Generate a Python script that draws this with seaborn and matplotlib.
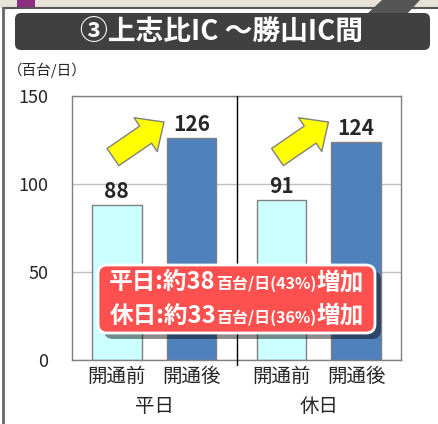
import pandas as pd
import matplotlib.pyplot as plt
import seaborn as sns
from matplotlib.patches import FancyBboxPatch, FancyArrowPatch, Polygon, Rectangle
from matplotlib.offsetbox import TextArea, HPacker, VPacker, AnchoredOffsetbox

# data
groups = ["平日", "平日", "休日", "休日"]
periods = ["開通前", "開通後", "開通前", "開通後"]
values = [88, 126, 91, 124]
yticks = [0, 50, 100, 150]
title = "③上志比IC ～勝山IC間"
unit = "（百台/日）"
box_lines = [
    [("平日:約38", 17), ("百台/日(43%)", 11.5), ("増加", 17)],
    [("休日:約33", 17), ("百台/日(36%)", 11.5), ("増加", 17)],
]

df = pd.DataFrame({"group": groups, "period": periods, "value": values})

sns.set_style("white")
plt.rcParams["font.family"] = ["Noto Sans CJK JP", "DejaVu Sans"]

fig = plt.figure(figsize=(4.38, 4.24), dpi=100)

# background decoration in pixel coords
bg = fig.add_axes([0, 0, 1, 1], zorder=0)
bg.set_xlim(0, 438)
bg.set_ylim(424, 0)
bg.axis("off")
bg.add_patch(Rectangle((0, 0), 438, 8, fc="#E6E2D6", ec="none"))
bg.add_patch(Rectangle((17, 0), 18, 8, fc="#8E2E80", ec="none"))
bg.add_patch(Polygon([(367, 14), (407, 14), (420, 0), (382, 0)], fc="#555555", ec="none"))
bg.plot([3, 438], [8, 8], color="#555555", lw=1.5)
bg.plot([3, 3], [8, 424], color="#666666", lw=2)
bg.add_patch(FancyBboxPatch((15, 13), 415, 37, boxstyle="round,pad=0,rounding_size=6",
                            fc="#404040", ec="none"))
bg.text(222, 32, title, color="white", fontsize=20, fontweight="bold",
        ha="center", va="center")
bg.text(8, 70, unit, fontsize=10.5, ha="left", va="center")

ax = fig.add_axes([72 / 438, 64 / 424, 329 / 438, 264 / 424], zorder=1)
sns.barplot(data=df, x="group", y="value", hue="period",
            palette={"開通前": "#CCFFFF", "開通後": "#4F81BD"}, saturation=1,
            edgecolor="#808080", linewidth=1, width=0.91, gap=0.34,
            legend=False, ax=ax, zorder=2)

ax.set_ylim(0, 150)
ax.set_xlim(-0.5, 1.5)
ax.set_yticks(yticks)
ax.set_yticklabels([str(t) for t in yticks], fontsize=13)
ax.tick_params(axis="y", length=0, pad=17)
ax.yaxis.grid(True, color="#C0C0C0", lw=1)
ax.set_axisbelow(True)
for s in ax.spines.values():
    s.set_color("#808080")
    s.set_linewidth(1)
ax.set_xlabel("")
ax.set_ylabel("")

for c in ax.containers:
    ax.bar_label(c, fontsize=15, fontweight="bold", padding=2)

# x tick labels: periods under bars, groups below
bars = sorted(ax.patches, key=lambda p: p.get_x())
centers = [p.get_x() + p.get_width() / 2 for p in bars]
ax.set_xticks([0, 1])
ax.set_xticklabels(["平日", "休日"], fontsize=14)
ax.set_xticks(centers, minor=True)
ax.set_xticklabels(periods, minor=True, fontsize=14)
ax.tick_params(axis="x", which="major", length=0, pad=26)
ax.tick_params(axis="x", which="minor", length=0, pad=4)

# separator between groups
ax.axvline(0.5, ymin=-0.02, ymax=1, color="black", lw=1, clip_on=False, zorder=3)

# arrows
for i in range(2):
    arr = FancyArrowPatch((i - 0.251, 115.3), (i + 0.059, 135.2),
                          arrowstyle="simple,head_length=16,head_width=29.5,tail_width=15",
                          fc="#FFFF00", ec="#808080", lw=1, shrinkA=0, shrinkB=0, zorder=4)
    ax.add_patch(arr)

# summary box
bg2 = fig.add_axes([0, 0, 1, 1], zorder=5)
bg2.set_xlim(0, 438)
bg2.set_ylim(424, 0)
bg2.axis("off")
bg2.add_patch(FancyBboxPatch((104, 271), 277, 68, boxstyle="round,pad=0,rounding_size=9",
                             fc="black", ec="none", alpha=0.45))
bg2.add_patch(FancyBboxPatch((98, 265), 277, 68, boxstyle="round,pad=0,rounding_size=9",
                             fc="#FF5050", ec="white", lw=2))
rows = []
for line in box_lines:
    parts = [TextArea(t, textprops=dict(color="white", fontsize=s, fontweight="bold"))
             for t, s in line]
    rows.append(HPacker(children=parts, align="baseline", pad=0, sep=0))
vp = VPacker(children=rows, align="center", pad=0, sep=7)
ab = AnchoredOffsetbox(loc="center", child=vp, bbox_to_anchor=(236.5 / 438, 1 - 299 / 424),
                       bbox_transform=fig.transFigure, frameon=False, pad=0, borderpad=0)
bg2.add_artist(ab)

fig.savefig("out.png", dpi=100)
